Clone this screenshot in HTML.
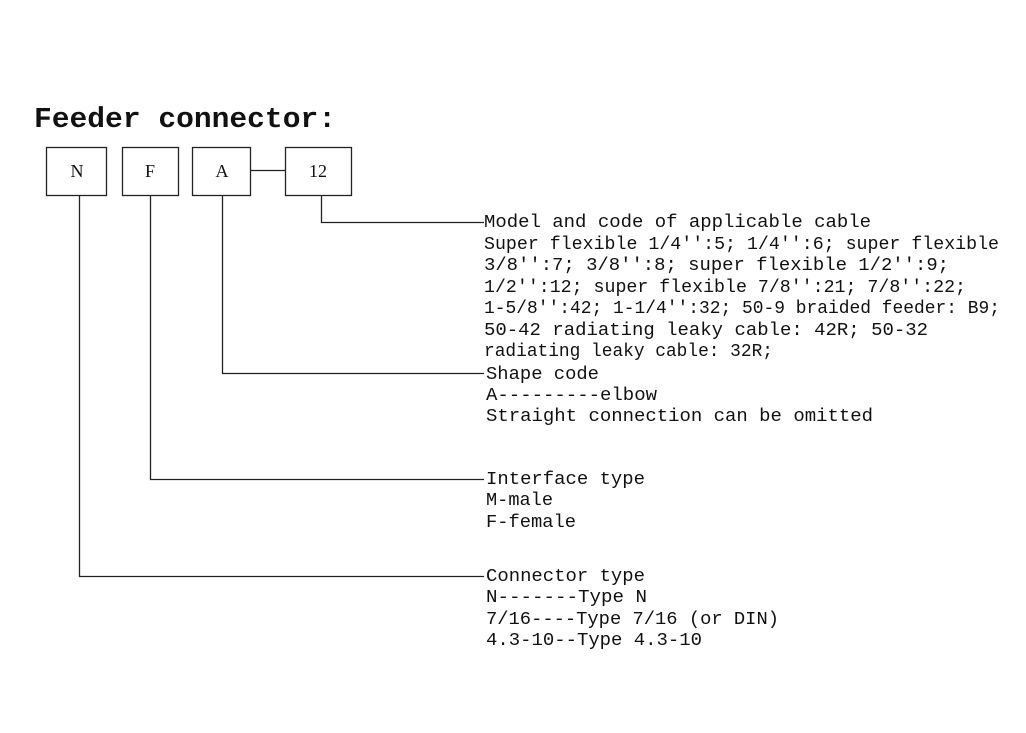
<!DOCTYPE html>
<html><head><meta charset="utf-8"><style>
html,body{margin:0;padding:0;background:#fff;}
svg{display:block;}
text{font-family:"Liberation Mono","Courier New",monospace;font-size:18px;fill:#111;}
.t{font-size:29px;font-weight:bold;}
.b{font-family:"Liberation Serif",serif;font-size:18px;}
</style></head><body>
<svg width="1026" height="733" viewBox="0 0 1026 733" xmlns="http://www.w3.org/2000/svg">
<text class="t" x="34" y="127" textLength="302" lengthAdjust="spacingAndGlyphs">Feeder connector:</text>
<g fill="none" stroke="#222" stroke-width="1.3">
<rect x="46.5" y="147.5" width="60" height="48"/>
<rect x="122.5" y="147.5" width="56" height="48"/>
<rect x="192.5" y="147.5" width="58" height="48"/>
<rect x="285.5" y="147.5" width="66" height="48"/>
<line x1="251" y1="170.5" x2="285" y2="170.5"/>
<polyline points="321.5,196 321.5,222.5 484,222.5"/>
<polyline points="222.5,196 222.5,373.5 484,373.5"/>
<polyline points="150.5,196 150.5,479.5 484,479.5"/>
<polyline points="79.5,196 79.5,576.5 484,576.5"/>
</g>
<g text-anchor="middle">
<text class="b" x="77" y="177">N</text><text class="b" x="150" y="177">F</text><text class="b" x="222" y="177">A</text><text class="b" x="318" y="177">12</text>
</g>
<g>
<text x="484" y="227" textLength="387" lengthAdjust="spacingAndGlyphs">Model and code of applicable cable</text>
<text x="484" y="249" textLength="515" lengthAdjust="spacingAndGlyphs">Super flexible 1/4'':5; 1/4'':6; super flexible</text>
<text x="484" y="270" textLength="465" lengthAdjust="spacingAndGlyphs">3/8'':7; 3/8'':8; super flexible 1/2'':9;</text>
<text x="484" y="292" textLength="482" lengthAdjust="spacingAndGlyphs">1/2'':12; super flexible 7/8'':21; 7/8'':22;</text>
<text x="484" y="313" textLength="516" lengthAdjust="spacingAndGlyphs">1-5/8'':42; 1-1/4'':32; 50-9 braided feeder: B9;</text>
<text x="484" y="335" textLength="444" lengthAdjust="spacingAndGlyphs">50-42 radiating leaky cable: 42R; 50-32</text>
<text x="484" y="356" textLength="289" lengthAdjust="spacingAndGlyphs">radiating leaky cable: 32R;</text>
<text x="486" y="379" textLength="113" lengthAdjust="spacingAndGlyphs">Shape code</text>
<text x="486" y="400" textLength="171" lengthAdjust="spacingAndGlyphs">A---------elbow</text>
<text x="486" y="421" textLength="387" lengthAdjust="spacingAndGlyphs">Straight connection can be omitted</text>
<text x="486" y="484" textLength="159" lengthAdjust="spacingAndGlyphs">Interface type</text>
<text x="486" y="505" textLength="67" lengthAdjust="spacingAndGlyphs">M-male</text>
<text x="486" y="527" textLength="90" lengthAdjust="spacingAndGlyphs">F-female</text>
<text x="486" y="581" textLength="159" lengthAdjust="spacingAndGlyphs">Connector type</text>
<text x="486" y="602" textLength="161" lengthAdjust="spacingAndGlyphs">N-------Type N</text>
<text x="486" y="624" textLength="293" lengthAdjust="spacingAndGlyphs">7/16----Type 7/16 (or DIN)</text>
<text x="486" y="645" textLength="216" lengthAdjust="spacingAndGlyphs">4.3-10--Type 4.3-10</text>
</g>
</svg>
</body></html>
